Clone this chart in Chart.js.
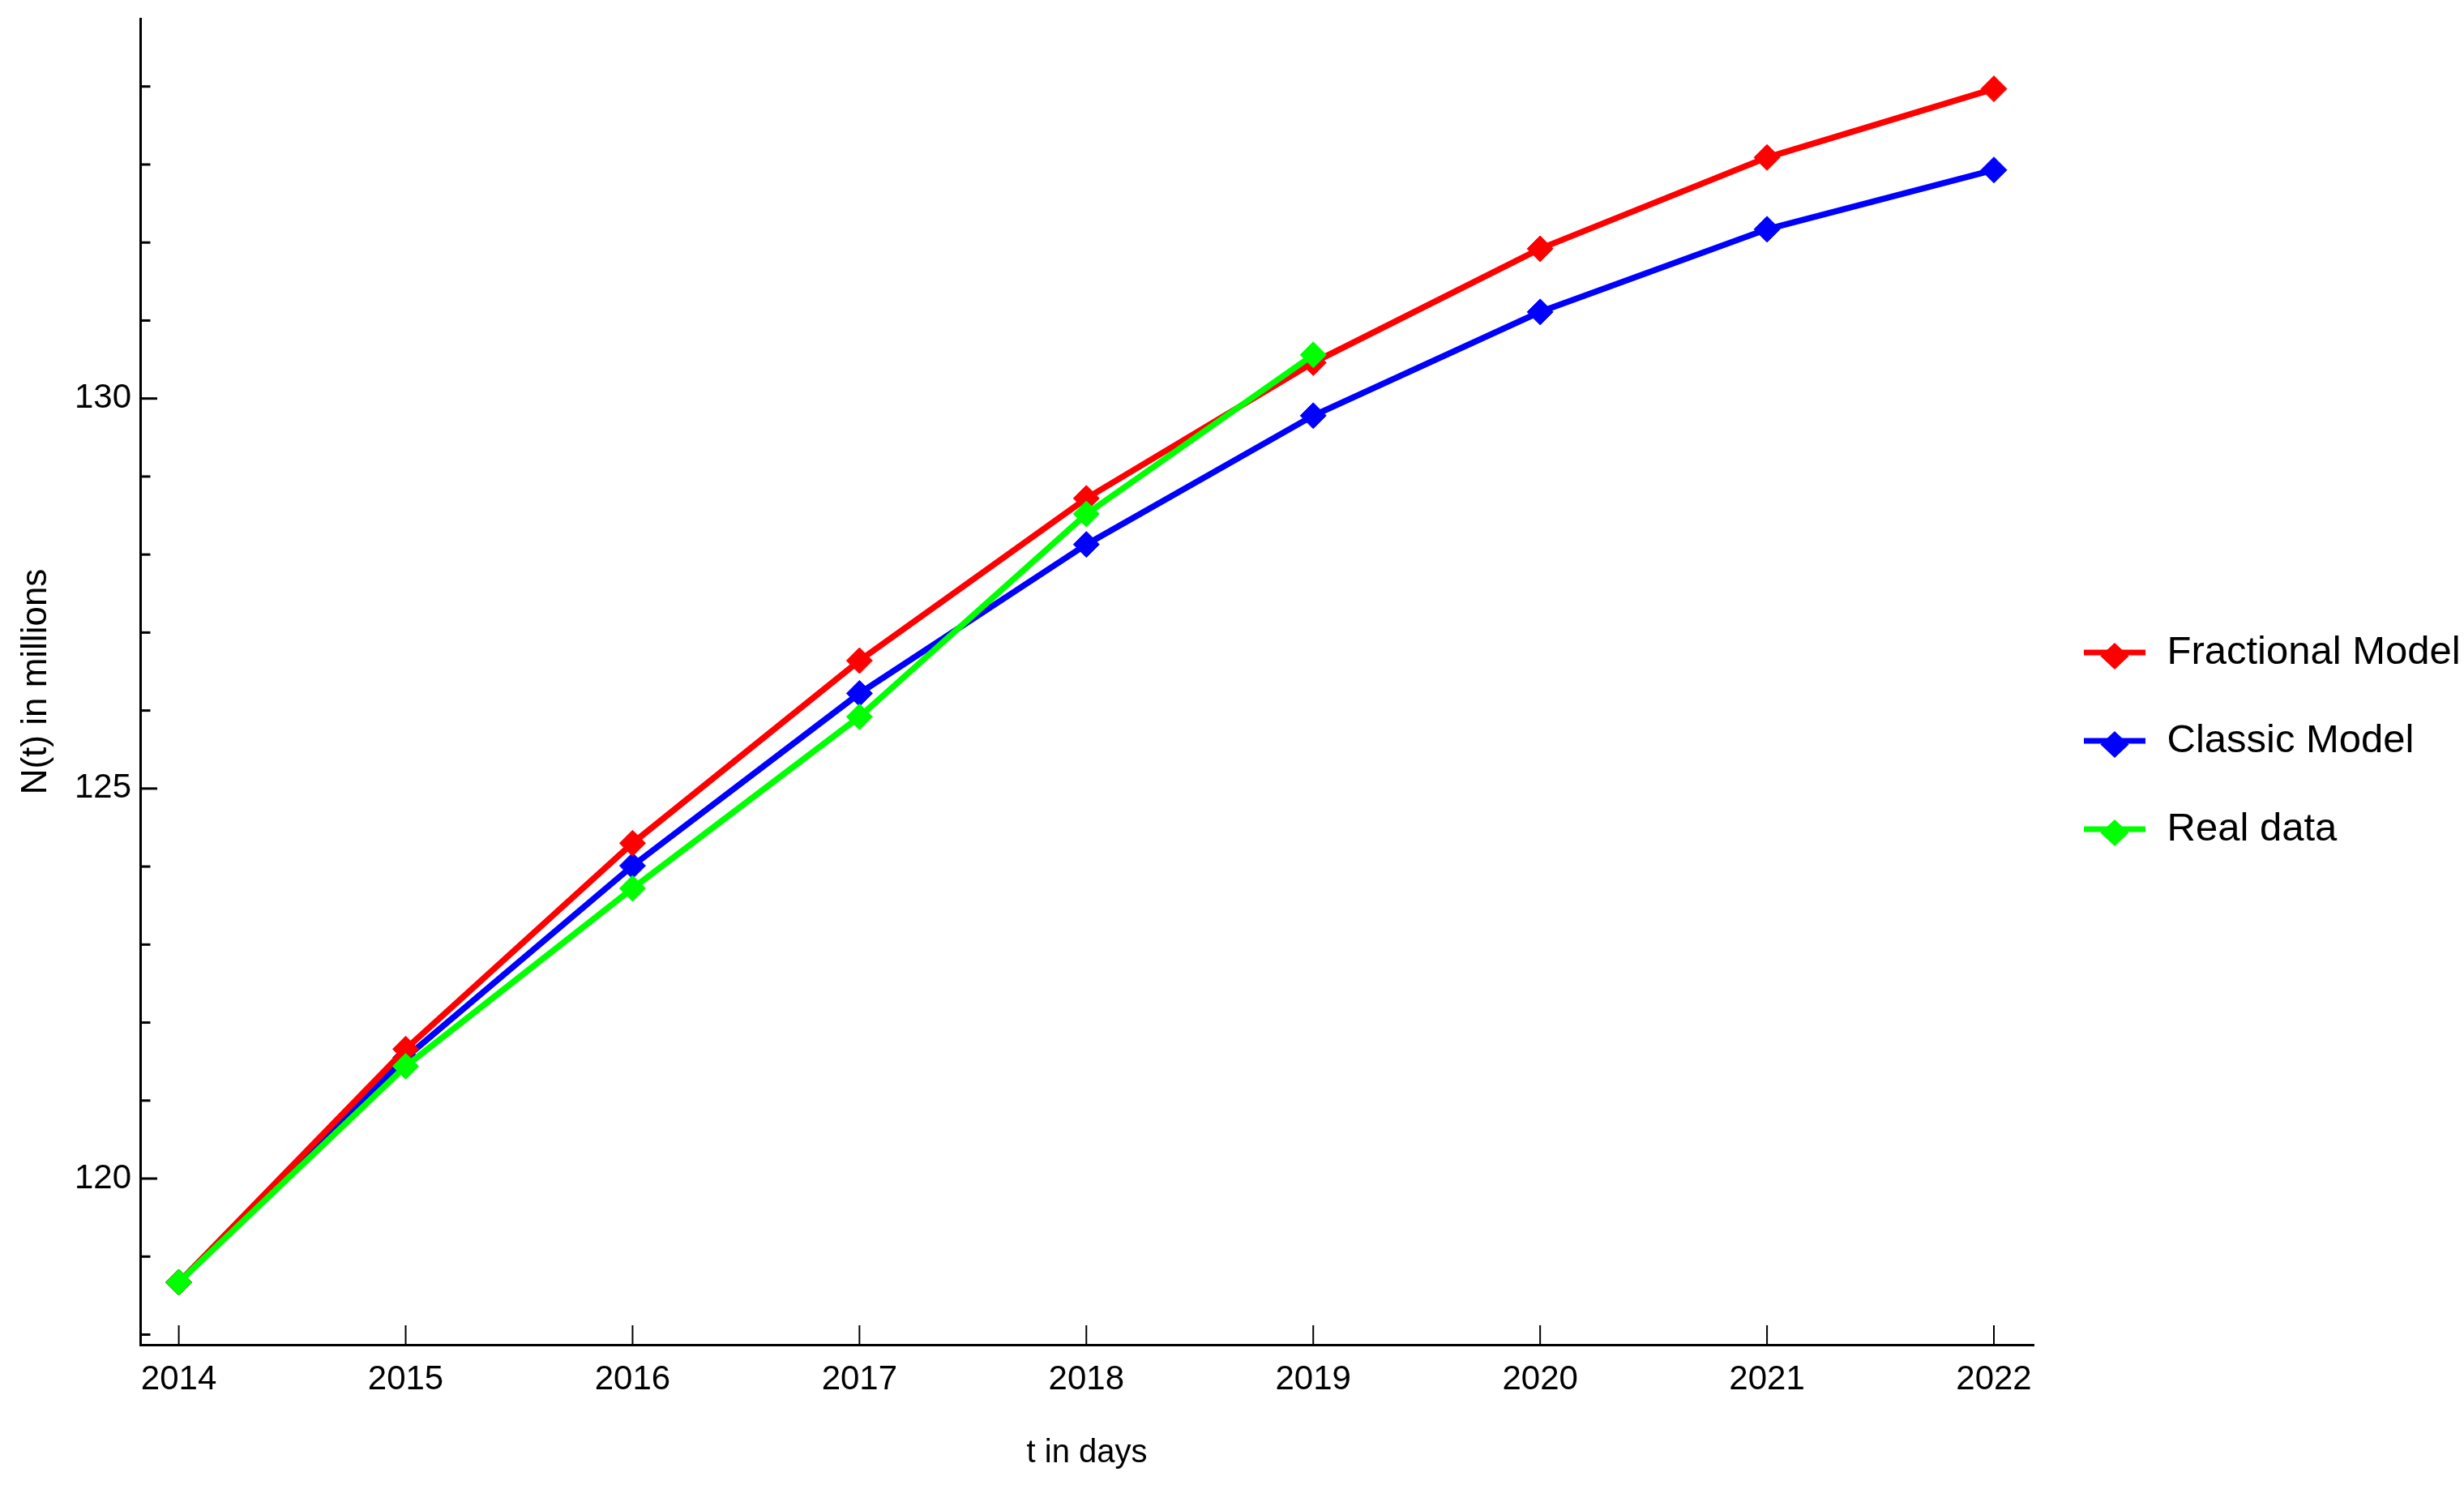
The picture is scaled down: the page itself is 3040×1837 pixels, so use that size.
<!DOCTYPE html>
<html>
<head>
<meta charset="utf-8">
<title>N(t) in millions</title>
<script src="https://cdn.jsdelivr.net/npm/chart.js@4.4.1/dist/chart.umd.min.js"></script>
<style>
    html, body { margin: 0; padding: 0; background: #fff; }
    #wrap { width: 3040px; height: 1837px; }
</style>
</head>
<body>
<div id="wrap"><canvas id="chart" width="3040" height="1837"></canvas></div>
<script>
// ------------------------
// Data
// ------------------------

const years = [2014, 2015, 2016, 2017, 2018, 2019, 2020, 2021, 2022];
const fractionalModel = [118.67, 121.66, 124.30, 126.64, 128.72, 130.46, 131.92, 133.09, 133.97];
const classicModel = [118.67, 121.55, 124.01, 126.22, 128.13, 129.78, 131.11, 132.17, 132.93];
const realData = [118.67, 121.44, 123.72, 125.92, 128.52, 130.56];

const yLabelTicks = [120, 125, 130];
const yMinorStep = 1;
const yRange = [117.87, 134.87];
const xRange = [2013.83, 2022.175];

const FONT = "'Liberation Sans', Arial, Helvetica, sans-serif";

// ------------------------
// Helpers
// ------------------------

// legend symbol: short line with a diamond on it
const legendMarker = (color) => {
    const c = document.createElement('canvas');
    c.width = 80;
    c.height = 44;
    const g = c.getContext('2d');
    g.fillStyle = color;
    g.fillRect(2, 18.5, 76, 7);
    g.beginPath();
    g.moveTo(40, 10);
    g.lineTo(57.5, 26.5);
    g.lineTo(40, 43);
    g.lineTo(22.5, 26.5);
    g.closePath();
    g.fill();
    return c;
};

const toPoints = (vals) => vals.map((v, i) => ({ x: years[i], y: v }));

const series = (label, vals, color, order) => ({
    label,
    data: toPoints(vals),
    order,
    borderColor: color,
    backgroundColor: color,
    borderWidth: 7.5,
    tension: 0,
    pointStyle: 'rectRot',
    pointRadius: 16,
    pointHoverRadius: 16,
    pointBorderWidth: 1,
    pointBackgroundColor: color,
    pointBorderColor: color
});

// tick marks pointing into the plot, like the original axes
const innerTicks = {
    id: 'innerTicks',
    beforeDatasetsDraw(chart) {
        const { ctx, chartArea: { left, bottom }, scales: { x, y } } = chart;
        ctx.save();
        ctx.strokeStyle = '#000';
        ctx.lineWidth = 3;
        for (let v = Math.ceil(y.min); v <= y.max; v += yMinorStep) {
            const py = y.getPixelForValue(v);
            ctx.beginPath();
            ctx.moveTo(left, py);
            ctx.lineTo(left + (yLabelTicks.includes(v) ? 21 : 12.5), py);
            ctx.stroke();
        }
        ctx.lineWidth = 2;
        years.forEach(yr => {
            const px = x.getPixelForValue(yr);
            ctx.beginPath();
            ctx.moveTo(px, bottom);
            ctx.lineTo(px, bottom - 24);
            ctx.stroke();
        });
        ctx.restore();
    }
};

// ------------------------
// Chart
// ------------------------

const colors = ['#ff0000', '#0000ff', '#00ff00'];
const markers = colors.map(legendMarker);

Chart.defaults.color = '#000';
Chart.defaults.font.family = FONT;

new Chart(document.getElementById('chart'), {
    type: 'line',
    data: {
        datasets: [
            series('Fractional Model', fractionalModel, colors[0], 1),
            series('Classic Model', classicModel, colors[1], 2),
            series('Real data', realData, colors[2], 0)
        ]
    },
    options: {
        responsive: false,
        animation: false,
        layout: { padding: { top: 23, right: 0, bottom: 32, left: 0 } },
        scales: {
            x: {
                type: 'linear',
                min: xRange[0],
                max: xRange[1],
                afterBuildTicks: s => { s.ticks = years.map(v => ({ value: v })); },
                afterFit: s => {
                    s.height = 146;
                    s.paddingLeft = 0;
                    s.paddingRight = 0;
                },
                grid: { display: true, drawOnChartArea: false, drawTicks: false },
                border: { display: true, color: '#000', width: 3 },
                ticks: {
                    padding: 18,
                    maxRotation: 0,
                    font: { size: 42 },
                    callback: v => String(v)
                },
                title: {
                    display: true,
                    text: 't in days',
                    font: { size: 40, lineHeight: 1 },
                    padding: { top: 0, bottom: -8 }
                }
            },
            y: {
                min: yRange[0],
                max: yRange[1],
                afterBuildTicks: s => { s.ticks = yLabelTicks.map(v => ({ value: v })); },
                afterFit: s => {
                    s.width = 173;
                    s.paddingTop = 0;
                    s.paddingBottom = 0;
                },
                grid: { display: true, drawOnChartArea: false, drawTicks: false },
                border: { display: true, color: '#000', width: 3 },
                ticks: {
                    padding: 11,
                    font: { size: 42 },
                    callback: v => String(v)
                },
                title: {
                    display: true,
                    text: 'N(t) in millions',
                    font: { size: 44 },
                    padding: { top: 18, bottom: 0 }
                }
            }
        },
        plugins: {
            legend: {
                position: 'right',
                maxWidth: 531,
                labels: {
                    usePointStyle: true,
                    pointStyleWidth: 80,
                    padding: 60,
                    font: { size: 49 },
                    sort: (a, b) => a.datasetIndex - b.datasetIndex,
                    generateLabels: chart => Chart.defaults.plugins.legend.labels.generateLabels(chart)
                        .map(item => ({ ...item, pointStyle: markers[item.datasetIndex] }))
                }
            },
            tooltip: { enabled: false }
        }
    },
    plugins: [innerTicks]
});
</script>
</body>
</html>
